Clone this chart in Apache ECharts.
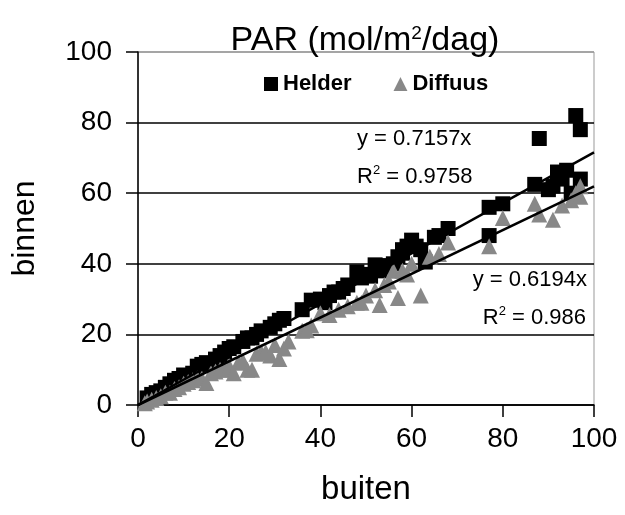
<!DOCTYPE html>
<html><head><meta charset="utf-8">
<script src="https://cdn.jsdelivr.net/npm/echarts@6/dist/echarts.min.js"></script>
<style>html,body{margin:0;padding:0;background:#fff}#c{width:625px;height:515px}</style>
</head><body><div id="c"></div>
<script>
const xTicks = [0, 20, 40, 60, 80, 100];
const yTicks = [0, 20, 40, 60, 80, 100];
const helderX = [2,3,4,5,6,7,8,9,10,12,13,14,15,17,18,19,20,21,23,24,25,26,27,29,30,31,32,36,38,40,41,42,43,44,45,46,48,49,50,51,52,53,54,55,56,57,58,58,59,60,61,62,63,65,66,68,77,77,80,87,88,90,91,92,93,94,95,96,97,97];
const helderY = [2,3,3.5,4,5,6,7,7.5,8.5,9,11,11.5,12,13,14,15,16,16.5,18,19,19,20,21,22,23,24,24.5,27,29.7,30,29,31,32,32,33,34,37.7,36,37,36.5,39.7,38,39,39.5,40,42,43,44,45,46.7,45,44,40.5,47.5,48,50,48,56,57,62.5,75.5,61,62,66,64,66.5,60,82,78,64];
const diffuusX = [1.5,2,3,4,5,6,7,8,9,10,11,12,13,14,15,16,17,18,19,20,21,22,23,24,25,26,27,28,29,30,31,32,33,36,37,38,40,42,44,46,48,49,50,52,53,54,55,56,57,58,59,60,62,64,66,68,77,80,87,88,91,93,95,96,97,97];
const diffuusY = [0.5,1,1.5,2,2.5,3.5,3.5,4.5,5,6,6.5,7,7.5,7.5,6.2,9,9.5,10,10,11,9,12,12.5,10,10,14.5,15,15,14,17,13,16,18,21,21.2,22.5,26,25.5,27,28,29,29,31,32.5,28.3,34,35,38,30.3,38,37,40,31,42,42.8,46,45,53,57,54,52.5,56.5,58,60,62,59];
const slopeHelder = 0.7157, slopeDiffuus = 0.6194;
const fitX = [0, 100];

const font = '"Liberation Sans", Arial, sans-serif';
const chart = echarts.init(document.getElementById('c'), null, {renderer: 'canvas'});
chart.setOption({
  animation: false,
  backgroundColor: '#fff',
  title: {
    text: 'PAR (mol/m{sup|2}/dag)',
    left: 360, top: 19, textAlign: 'center',
    textStyle: {fontFamily: font, fontSize: 34, fontWeight: 'normal', color: '#000',
      rich: {sup: {fontFamily: font, fontSize: 19, verticalAlign: 'top', padding: [0,0,14,0], color:'#000'}}}
  },
  legend: {
    left: 259, top: 68, itemGap: 42, itemWidth: 14, itemHeight: 14,
    textStyle: {fontFamily: font, fontSize: 22, fontWeight: 'bold', color: '#000'},
    data: [{name: 'Helder', icon: 'rect'}, {name: 'Diffuus', icon: 'triangle'}]
  },
  grid: {left: 138, right: 31, top: 52, bottom: 110, show: true, borderColor: '#999', borderWidth: 1},
  xAxis: {
    type: 'value', min: 0, max: 100, interval: 20,
    name: 'buiten', nameLocation: 'middle', nameGap: 68,
    nameTextStyle: {fontFamily: font, fontSize: 33, color: '#000'},
    axisLine: {show: true, onZero: false, lineStyle: {color: '#000', width: 1.5}},
    axisTick: {show: true, inside: false, length: 12, lineStyle: {color: '#000', width: 1.5}},
    axisLabel: {fontFamily: font, fontSize: 28, color: '#000', margin: 20},
    splitLine: {show: false}
  },
  yAxis: {
    type: 'value', min: 0, max: 100, interval: 20,
    name: 'binnen', nameLocation: 'middle', nameGap: 97,
    nameTextStyle: {fontFamily: font, fontSize: 32, color: '#000'},
    axisLine: {show: true, onZero: false, lineStyle: {color: '#000', width: 1.5}},
    axisTick: {show: true, inside: false, length: 12, lineStyle: {color: '#000', width: 1.5}},
    axisLabel: {fontFamily: font, fontSize: 28, color: '#000', margin: 26},
    splitLine: {show: true, lineStyle: {color: ['#000','#000','#000','#000','#000','#999'], width: 1.5}}
  },
  series: [
    {name: 'Helder', type: 'scatter', symbol: 'rect', symbolSize: 15,
     itemStyle: {color: '#000', opacity: 1}, data: helderX.map((x, i) => [x, helderY[i]]), z: 3},
    {name: 'Diffuus', type: 'scatter', symbol: 'triangle', symbolSize: 16,
     itemStyle: {color: '#888', opacity: 1}, data: diffuusX.map((x, i) => [x, diffuusY[i]]), z: 4},
    {name: 'fitH', type: 'line', showSymbol: false, symbol: 'none', z: 5,
     lineStyle: {color: '#000', width: 2.5}, data: fitX.map(x => [x, slopeHelder * x])},
    {name: 'fitD', type: 'line', showSymbol: false, symbol: 'none', z: 5,
     lineStyle: {color: '#000', width: 2.5}, data: fitX.map(x => [x, slopeDiffuus * x])}
  ],
  graphic: [
    {type: 'text', left: 357, top: 128, z: 10,
     style: {text: 'y = 0.7157x', font: '22px ' + font, fill: '#000'}},
    {type: 'text', left: 357, top: 164, z: 10,
     style: {text: 'R{s|2} = 0.9758', font: '22px ' + font, fill: '#000',
       rich: {s: {fontSize: 13, verticalAlign: 'top', padding: [0,0,12,0], fill:'#000'}}}},
    {type: 'text', right: 38, top: 269, z: 10,
     style: {text: 'y = 0.6194x', font: '22px ' + font, fill: '#000'}},
    {type: 'text', right: 39, top: 305, z: 10,
     style: {text: 'R{s|2} = 0.986', font: '22px ' + font, fill: '#000',
       rich: {s: {fontSize: 13, verticalAlign: 'top', padding: [0,0,12,0], fill:'#000'}}}}
  ]
});
</script></body></html>
